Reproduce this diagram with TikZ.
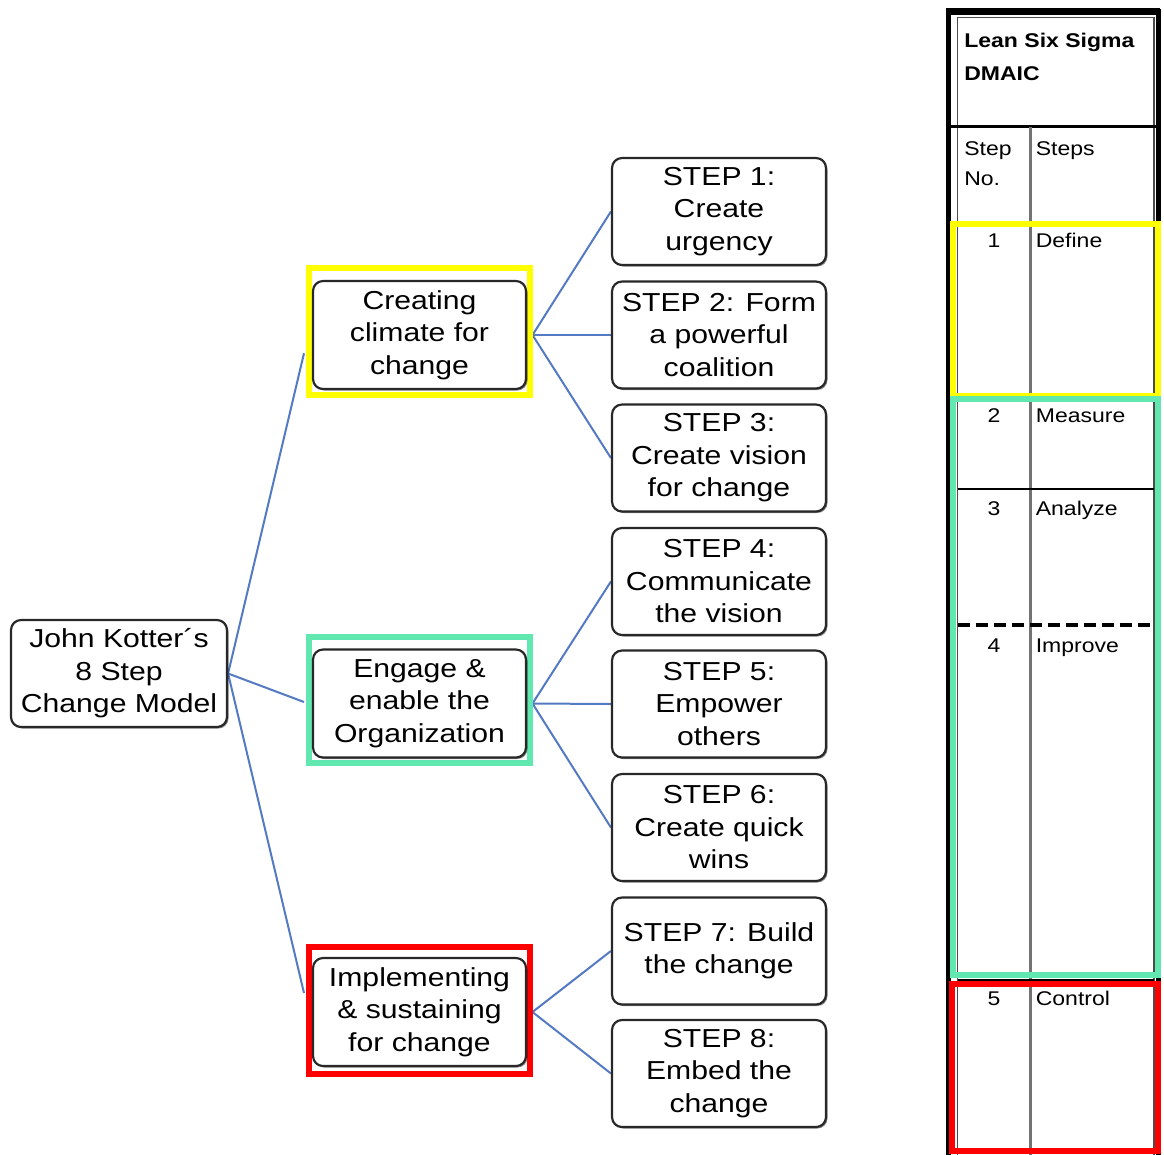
\documentclass[tikz,border=0pt]{standalone}
\usepackage{fontspec}
\setmainfont{Liberation Sans}
\newfontfamily\bxfont[FakeStretch=1.16]{Liberation Sans}
\usetikzlibrary{shadows,calc}
\definecolor{conn}{RGB}{84,122,196}
\definecolor{fgreen}{RGB}{96,232,176}
\definecolor{fyellow}{RGB}{255,255,0}
\definecolor{fred}{RGB}{255,0,0}
\definecolor{boxline}{RGB}{40,40,40}
\pgfdeclarelayer{bg}
\pgfsetlayers{bg,main}
\begin{document}
\begin{tikzpicture}[x=0.6pt,y=-0.6pt,
  box/.style={draw=boxline, line width=1.3pt, rounded corners=6pt, fill=white,
    align=center, inner sep=0pt,
    font=\bxfont\fontsize{15.6}{19.5}\selectfont,
    drop shadow={shadow xshift=0.9pt, shadow yshift=-0.9pt, opacity=0.45, fill=black}},
  stepbox/.style={box, minimum width=128.4pt, minimum height=64.2pt},
  midbox/.style={box, minimum width=127.8pt, minimum height=64.8pt},
  frame/.style={draw=#1, line width=3.6pt, minimum width=132.3pt, minimum height=75.9pt, inner sep=0pt},
  conline/.style={draw=conn, line width=1.2pt},
  tabtxt/.style={anchor=base west, inner sep=0pt, font=\bxfont\fontsize{11.9}{14}\selectfont},
  tabnum/.style={anchor=base, inner sep=0pt, font=\bxfont\fontsize{11.9}{14}\selectfont}
]
\useasboundingbox (0,0) rectangle (1164,1155);
\begin{pgfonlayer}{bg}
\fill[white] (0,0) rectangle (1164,1155);
\end{pgfonlayer}

% ---------- left tree ----------
\node[frame=fyellow] (f1) at (419.25,331.25) {};
\node[frame=fgreen]  (f2) at (419.25,700) {};
\node[frame=fred]    (f3) at (419.25,1010.5) {};

\node[box, minimum width=129.6pt, minimum height=64.2pt] (root) at (119,673.5)
  {John Kotter´s\\8 Step\\Change Model};

\node[midbox] (m1) at (419.5,335) {Creating\\climate for\\change};
\node[midbox] (m2) at (419.5,703.5) {Engage \&\\enable the\\Organization};
\node[midbox] (m3) at (419.5,1012) {Implementing\\\& sustaining\\for change};

\node[stepbox] (s1) at (719,211.5) {STEP 1:\\Create\\urgency};
\node[stepbox] (s2) at (719,335) {STEP 2: Form\\a powerful\\coalition};
\node[stepbox] (s3) at (719,458) {STEP 3:\\Create vision\\for change};
\node[stepbox] (s4) at (719,581.5) {STEP 4:\\Communicate\\the vision};
\node[stepbox] (s5) at (719,704) {STEP 5:\\Empower\\others};
\node[stepbox] (s6) at (719,827.5) {STEP 6:\\Create quick\\wins};
\node[stepbox] (s7) at (719,951) {STEP 7: Build\\the change};
\node[stepbox] (s8) at (719,1073.5) {STEP 8:\\Embed the\\change};

\begin{pgfonlayer}{bg}
\draw[conline] (root.east) -- ($(f1.west)+(-2,22)$);
\draw[conline] (root.east) -- ($(f2.west)+(-2,2)$);
\draw[conline] (root.east) -- ($(f3.west)+(-2,-17.5)$);
\draw[conline] (f1.east |- m1.center) -- (s1.west);
\draw[conline] (f1.east |- m1.center) -- (s2.west);
\draw[conline] (f1.east |- m1.center) -- (s3.west);
\draw[conline] (f2.east |- m2.center) -- (s4.west);
\draw[conline] (f2.east |- m2.center) -- (s5.west);
\draw[conline] (f2.east |- m2.center) -- (s6.west);
\draw[conline] (f3.east |- m3.center) -- (s7.west);
\draw[conline] (f3.east |- m3.center) -- (s8.west);
\end{pgfonlayer}

% ---------- right table ----------
\begin{scope}
\clip (0,0) rectangle (1164,1155);
\draw[black, line width=3pt] (948.5,1170) -- (948.5,11.5) -- (1158,11.5) -- (1158,1170);
\draw[black, line width=4.2pt] (946,11.5) -- (1160,11.5);
\draw[black!70, line width=1pt] (957.5,1170) -- (957.5,17.5) -- (1154,17.5) -- (1154,1170);
\draw[black, line width=2pt] (948,126.5) -- (1158,126.5);
\draw[black!55, line width=1.8pt] (1030.5,127) -- (1030.5,1170);
\draw[black, line width=1.2pt] (957.5,222) -- (1154,222);
\draw[black, line width=1pt] (957.5,397) -- (1154,397);
\draw[black, line width=1pt] (957.5,489) -- (1154,489);
\draw[black, line width=2pt, dash pattern=on 7.2pt off 3.6pt] (957.5,625) -- (1154,625);
\draw[black, line width=1pt] (957.5,980) -- (1154,980);

\draw[fyellow, line width=3.6pt] (952.5,224) rectangle (1157.5,395.5);
\draw[fgreen, line width=3.6pt] (952.5,399) rectangle (1157.5,975);
\draw[fred, line width=3.6pt] (952,983.5) rectangle (1158,1150.5);
\end{scope}

\node[tabtxt, font=\bxfont\bfseries\fontsize{11.9}{14}\selectfont] (t1) at (964,47) {Lean Six Sigma};
\node[tabtxt, font=\bxfont\bfseries\fontsize{11.9}{14}\selectfont] (t2) at (964,80) {DMAIC};
\node[tabtxt] (h1) at (964,155) {Step};
\node[tabtxt] (h2) at (964,185) {No.};
\node[tabtxt] (h3) at (1035.5,155) {Steps};
\node[tabnum] (n1) at (994,247) {1};
\node[tabtxt] (r1) at (1035.5,247) {Define};
\node[tabnum] (n2) at (994,422) {2};
\node[tabtxt] (r2) at (1035.5,422) {Measure};
\node[tabnum] (n3) at (994,515) {3};
\node[tabtxt] (r3) at (1035.5,515) {Analyze};
\node[tabnum] (n4) at (994,652) {4};
\node[tabtxt] (r4) at (1035.5,652) {Improve};
\node[tabnum] (n5) at (994,1005) {5};
\node[tabtxt] (r5) at (1035.5,1005) {Control};
\end{tikzpicture}
\end{document}
